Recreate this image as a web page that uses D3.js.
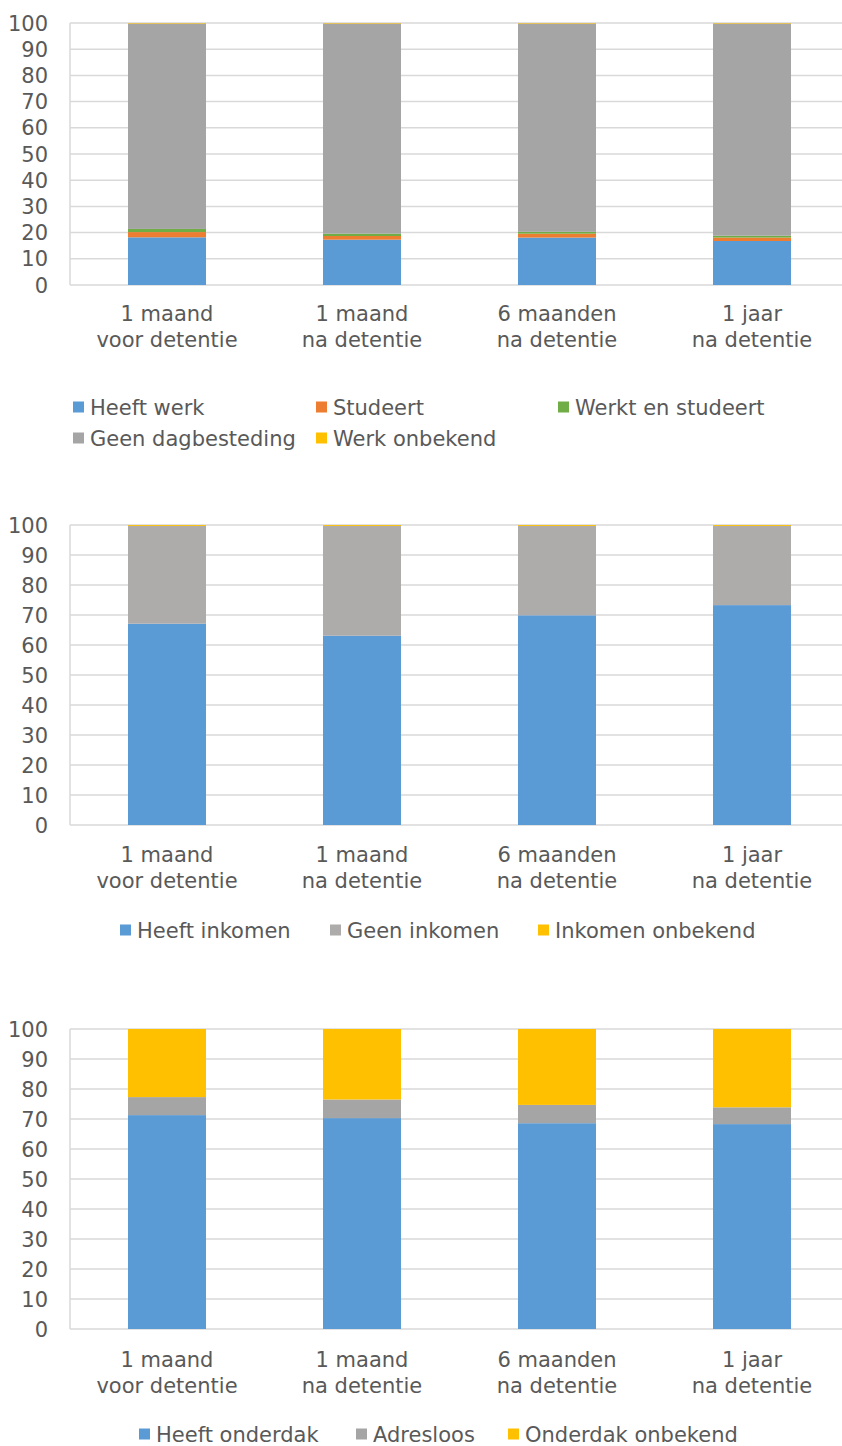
<!DOCTYPE html>
<html><head><meta charset="utf-8">
<script src="https://cdn.jsdelivr.net/npm/d3@7"></script>
<style>
body{margin:0;background:#fff;}
svg{display:block;font-family:"DejaVu Sans",Verdana,sans-serif;}
text{fill:#595959;}
</style></head>
<body>
<svg id="chart" width="842" height="1446"></svg>
<script>
// ---- data ----
const categories = [["1 maand","voor detentie"],["1 maand","na detentie"],["6 maanden","na detentie"],["1 jaar","na detentie"]];
const yTicks = [0,10,20,30,40,50,60,70,80,90,100];

// chart 1: dagbesteding
const heeftWerk        = [18.2, 17.3, 18.1, 16.8];
const studeert         = [2.0, 1.4, 1.5, 1.3];
const werktEnStudeert  = [1.2, 0.9, 0.7, 0.7];
const geenDagbesteding = [78.4, 80.2, 79.5, 81.0];
const werkOnbekend     = [0.2, 0.2, 0.2, 0.2];

// chart 2: inkomen
const heeftInkomen     = [67.1, 63.1, 69.9, 73.3];
const geenInkomen      = [32.6, 36.6, 29.8, 26.4];
const inkomenOnbekend  = [0.3, 0.3, 0.3, 0.3];

// chart 3: onderdak
const heeftOnderdak    = [71.3, 70.3, 68.6, 68.3];
const adresloos        = [6.0, 6.2, 6.1, 5.6];
const onderdakOnbekend = [22.7, 23.5, 25.3, 26.1];

const charts = [
  { top: 23, bottom: 285, labelY: 313,
    series: [
      {name:"Heeft werk", values: heeftWerk, color:"#5B9BD5"},
      {name:"Studeert", values: studeert, color:"#ED7D31"},
      {name:"Werkt en studeert", values: werktEnStudeert, color:"#70AD47"},
      {name:"Geen dagbesteding", values: geenDagbesteding, color:"#A5A5A5"},
      {name:"Werk onbekend", values: werkOnbekend, color:"#FFC000"}],
    legend: [[73,407],[316,407],[558,407],[73,438],[316,438]] },
  { top: 525, bottom: 825, labelY: 854,
    series: [
      {name:"Heeft inkomen", values: heeftInkomen, color:"#5B9BD5"},
      {name:"Geen inkomen", values: geenInkomen, color:"#AEABAB"},
      {name:"Inkomen onbekend", values: inkomenOnbekend, color:"#FFC000"}],
    legend: [[120,930],[330,930],[538,930]] },
  { top: 1029, bottom: 1329, labelY: 1359,
    series: [
      {name:"Heeft onderdak", values: heeftOnderdak, color:"#5B9BD5"},
      {name:"Adresloos", values: adresloos, color:"#A5A5A5"},
      {name:"Onderdak onbekend", values: onderdakOnbekend, color:"#FFC000"}],
    legend: [[139,1434],[356,1434],[508,1434]] }
];

const svg = d3.select("#chart");
const FS = 21;

charts.forEach(c => {
  const g = svg.append("g");
  const x = d3.scaleBand().domain(d3.range(categories.length)).range([69.5, 849.5])
      .paddingInner(0.6).paddingOuter(0.3);
  const y = d3.scaleLinear().domain([0,100]).range([c.bottom, c.top]);

  // gridlines
  g.append("g").selectAll("line").data(yTicks).join("line")
    .attr("x1", 70).attr("x2", 850)
    .attr("y1", d => y(d)).attr("y2", d => y(d))
    .attr("stroke", "#D9D9D9").attr("stroke-width", 1.5);
  // left axis line
  g.append("line").attr("x1",70).attr("x2",70).attr("y1",y(100)).attr("y2",y(0))
    .attr("stroke","#D9D9D9").attr("stroke-width",1.5);

  // y tick labels
  g.append("g").selectAll("text").data(yTicks).join("text")
    .attr("x", 48).attr("y", d => y(d)).attr("dy","0.36em")
    .attr("text-anchor","end").attr("font-size",FS).text(d => d);

  // stacked bars
  const rows = categories.map((cat,i) => {
    const o = {i};
    c.series.forEach(s => o[s.name] = s.values[i]);
    return o;
  });
  const stack = d3.stack().keys(c.series.map(s => s.name))(rows);
  stack.forEach((layer, k) => {
    g.append("g").attr("fill", c.series[k].color)
      .selectAll("rect").data(layer).join("rect")
      .attr("x", d => x(d.data.i)).attr("width", x.bandwidth())
      .attr("y", d => y(d[1])).attr("height", d => Math.max(0, y(d[0]) - y(d[1])));
  });

  // x labels
  const xl = g.append("g").selectAll("text").data(categories).join("text")
    .attr("text-anchor","middle").attr("font-size",FS)
    .attr("transform",(d,i)=>`translate(${x(i)+x.bandwidth()/2},${c.labelY})`);
  xl.each(function(d){
    const t = d3.select(this);
    d.forEach((line,j) => t.append("tspan").attr("x",0).attr("y", j*26).attr("dy","0.36em").text(line));
  });

  // legend
  const lg = g.append("g").selectAll("g").data(c.series).join("g")
    .attr("transform",(d,i)=>`translate(${c.legend[i][0]},${c.legend[i][1]})`);
  lg.append("rect").attr("x",0).attr("y",-5.5).attr("width",11).attr("height",11).attr("fill",d=>d.color);
  lg.append("text").attr("x",17).attr("dy","0.36em").attr("font-size",FS).text(d=>d.name);
});
</script>
</body></html>
